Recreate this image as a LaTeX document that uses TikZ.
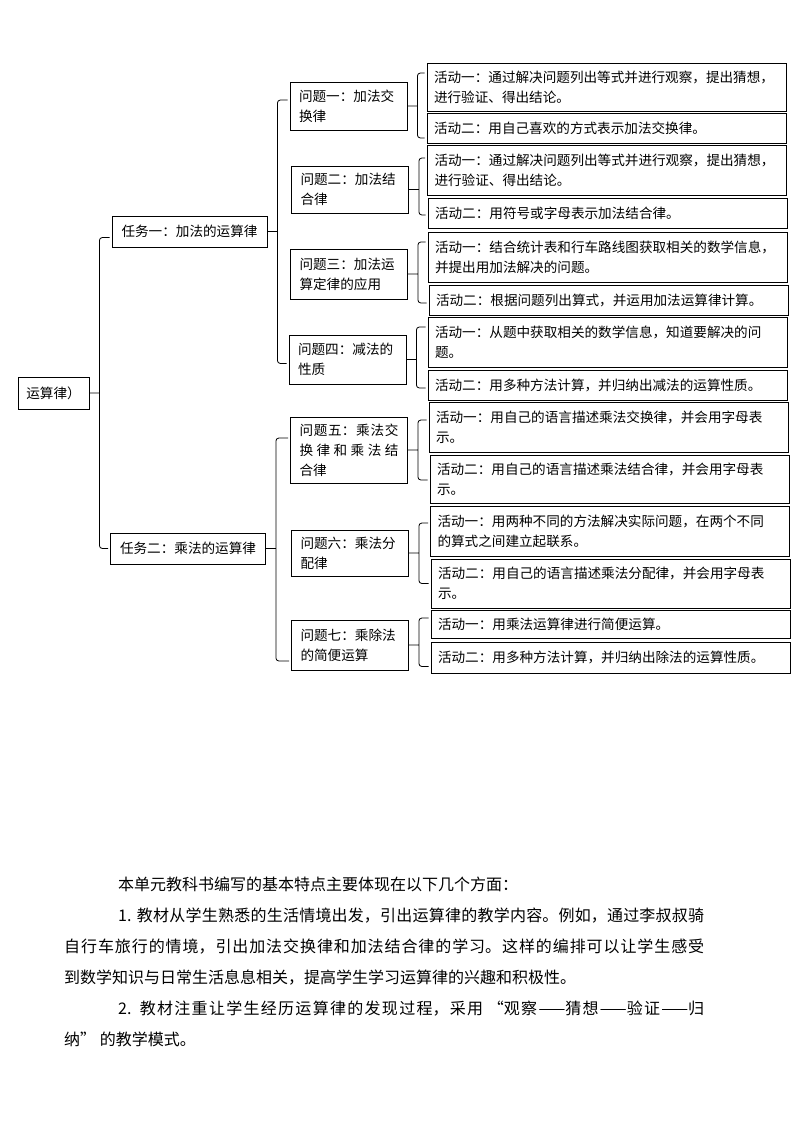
\documentclass[tikz,border=0pt]{standalone}
\usepackage{fontspec}
\newfontfamily\cjk{Noto Sans CJK SC}
\usetikzlibrary{positioning,calc}
\tikzset{box/.style={draw,line width=0.8pt,inner sep=0pt,font=\cjk\fontsize{13.6}{20}\selectfont}}
\tikzset{task/.style={box,minimum width=155pt,minimum height=31pt}}
\tikzset{quest/.style={box,text width=99pt,inner xsep=9pt,align=left}}
\tikzset{act/.style={box,text width=345pt,inner xsep=7pt,align=left}}
\tikzset{fork/.style={line width=0.8pt,rounded corners=3pt}}
\tikzset{para/.style={inner sep=0pt,text width=640pt,align=justify,font=\cjk\fontsize{16}{31}\selectfont}}
\newcommand{\zhbreak}{\XeTeXlinebreaklocale "zh"\XeTeXlinebreakskip=0pt plus 2pt\relax}
% brace from a parent box to its first and last child
\newcommand{\fork}[5]{%
  \draw[fork] let \p1=(#1.east), \p2=(#2.west), \p3=(#3.west) in
    (\x2-2pt,\y2+#4pt) -- (\x1+10pt,\y2+#4pt) -- (\x1+10pt,\y3-#5pt) -- (\x3-2pt,\y3-#5pt)
    (\p1) -- (\x1+10pt,\y1);}

\begin{document}
\begin{tikzpicture}[x=1pt,y=-1pt]
  \useasboundingbox (0,0) rectangle (794,1123);
  \node[box,minimum width=71pt,minimum height=32pt] (root) at (53.5,393) {运算律）};
  \node[task] (task1) at (189.5,231.5) {任务一：加法的运算律};
  \node[task] (task2) at (188,548.5) {任务二：乘法的运算律};
  % questions
  \foreach \name/\x/\y/\h/\txt in {
      q1/348.5/106/48/{问题一：加法交\\换律},
      q2/350/189.5/47/{问题二：加法结\\合律},
      q3/349/274/50/{问题三：加法运\\算定律的应用},
      q4/347.5/359.5/49/{问题四：减法的\\性质},
      q6/350/553/46/{问题六：乘法分\\配律},
      q7/350/645/50/{问题七：乘除法\\的简便运算}}
    \node[quest,minimum height=\h pt] (\name) at (\x,\y) {\txt};
  \node[quest,align=justify,minimum height=66pt] (q5) at (349,450)
    {\zhbreak 问题五：乘法交\linebreak 换律和乘法结\linebreak 合律};
  % activities
  \foreach \name/\x/\y/\h/\txt in {
      a1a/606.5/87/48/{活动一：通过解决问题列出等式并进行观察，提出猜想，\\进行验证、得出结论。},
      a1b/606.5/128/30/{活动二：用自己喜欢的方式表示加法交换律。},
      a2a/607/170/50/{活动一：通过解决问题列出等式并进行观察，提出猜想，\\进行验证、得出结论。},
      a2b/607.5/213/30/{活动二：用符号或字母表示加法结合律。},
      a3a/607.5/257/50/{活动一：结合统计表和行车路线图获取相关的数学信息，\\并提出用加法解决的问题。},
      a3b/608.5/300/30/{活动二：根据问题列出算式，并运用加法运算律计算。},
      a4a/607.5/342/50/{活动一：从题中获取相关的数学信息，知道要解决的问\\题。},
      a4b/607.5/385/30/{活动二：用多种方法计算，并归纳出减法的运算性质。},
      a5a/608.5/427/50/{活动一：用自己的语言描述乘法交换律，并会用字母表\\示。},
      a5b/609.5/479/48/{活动二：用自己的语言描述乘法结合律，并会用字母表\\示。},
      a6a/610/531/50/{活动一：用两种不同的方法解决实际问题，在两个不同\\的算式之间建立起联系。},
      a6b/610.5/583.5/49/{活动二：用自己的语言描述乘法分配律，并会用字母表\\示。},
      a7a/610.5/624/28/{活动一：用乘法运算律进行简便运算。},
      a7b/610.5/657.5/31/{活动二：用多种方法计算，并归纳出除法的运算性质。}}
    \node[act,minimum height=\h pt] (\name) at (\x,\y) {\txt};
  % braces
  \foreach \up/\first/\last/\dt/\db in {
      q1/a1a/a1b/14/10, q2/a2a/a2b/12/2, q3/a3a/a3b/15/3, q4/a4a/a4b/15/3,
      q5/a5a/a5b/7/1, q6/a6a/a6b/8/0, q7/a7a/a7b/6/9,
      task1/q1/q4/6/4, task2/q5/q7/12/16, root/task1/task2/-6/0}
    \fork{\up}{\first}{\last}{\dt}{\db};
  \node[para,anchor=north west] (intro) at (64,877) {\zhbreak\noindent\hspace*{54pt}本单元教科书编写的基本特点主要体现在以下几个方面：\par
    \noindent\hspace*{54pt}1. 教材从学生熟悉的生活情境出发，引出运算律的教学内容。例如，通过李叔叔骑\linebreak
    自行车旅行的情境，引出加法交换律和加法结合律的学习。这样的编排可以让学生感受\linebreak
    到数学知识与日常生活息息相关，提高学生学习运算律的兴趣和积极性。\par
    \noindent\hspace*{54pt}2. 教材注重让学生经历运算律的发现过程，采用 “观察——猜想——验证——归\linebreak
    纳” 的教学模式。};
\end{tikzpicture}
\end{document}
